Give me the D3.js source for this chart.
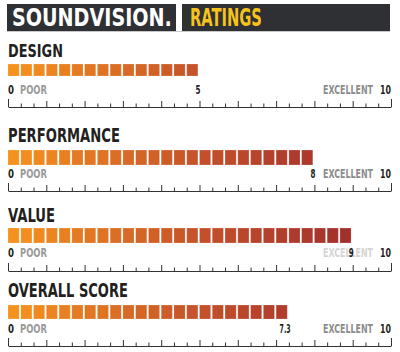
<!DOCTYPE html>
<html>
<head>
<meta charset="utf-8">
<title>SoundVision ratings</title>
<script src="https://d3js.org/d3.v7.min.js"></script>
<style>
  body { margin: 0; background: #fff; }
  text { font-family: "Liberation Sans Narrow", "DejaVu Sans Condensed", "Arial Narrow", sans-serif; font-weight: bold; }
</style>
</head>
<body>
<div id="chart"></div>
<script>
// ratings data
const categories = ["DESIGN", "PERFORMANCE", "VALUE", "OVERALL SCORE"];
const scores = [5, 8, 9, 7.3];
const scoreLabels = ["5", "8", "9", "7.3"];
const lowLabel = "POOR";
const highLabel = "EXCELLENT";
const scaleMin = 0, scaleMax = 10;

const width = 400, height = 352;

// layout of each block (title baseline, bar top, bar height, label baseline, axis line)
const rows = [
    { title: 57,  bar: 64,  barH: 12, label: 94,  axis: 107, titleW: 55 },
    { title: 142, bar: 150, barH: 15, label: 178, axis: 191, titleW: 112 },
    { title: 222, bar: 228, barH: 15, label: 257, axis: 271, titleW: 47 },
    { title: 297, bar: 305, barH: 14, label: 333, axis: 346, titleW: 120 }
];

const svg = d3.select("#chart").append("svg")
    .attr("width", width)
    .attr("height", height);

// squeeze a text horizontally to a given width (condensed look)
function fitText(g, txt, xPos, y, anchor, size, fill, w) {
    const t = g.append("text")
        .attr("text-anchor", anchor)
        .style("font-size", size + "px")
        .attr("fill", fill)
        .text(txt);
    const nat = t.node().getComputedTextLength();
    const s = w ? w / nat : 1;
    t.attr("transform", `translate(${xPos},${y}) scale(${s},1)`);
    return t;
}

// header
svg.append("rect").attr("x", 7).attr("y", 4).attr("width", 169).attr("height", 27).attr("fill", "#2e3034");
svg.append("rect").attr("x", 182).attr("y", 4).attr("width", 208).attr("height", 27).attr("fill", "#2e3034");
svg.append("rect").attr("x", 7).attr("y", 31).attr("width", 383).attr("height", 1).attr("fill", "#c8c8c8");
fitText(svg, "SOUNDVISION.", 12, 26, "start", 25, "#fff", 160);
fitText(svg, "RATINGS", 190, 26, "start", 25, "#f6c21c", 72);

const x = d3.scaleLinear()
    .domain([scaleMin, scaleMax])
    .range([8, 391]);

const color = d3.scaleLinear()
    .domain([0, 5, 10])
    .range(["#f7941e", "#c4512a", "#98262d"])
    .interpolate(d3.interpolateRgb);

const thirds = d3.range(0, scaleMax * 3 + 1).map(i => i / 3);

categories.forEach((cat, k) => {
    const r = rows[k];
    const g = svg.append("g");

    fitText(g, cat, 8, r.title, "start", k === 0 ? 18 : 19, "#231f20", r.titleW);

    // bar made of segments, three per point
    const n = Math.round(scores[k] * 3);
    g.selectAll("rect.seg")
        .data(d3.range(n))
        .join("rect")
        .attr("class", "seg")
        .attr("x", i => x(i / 3))
        .attr("y", r.bar)
        .attr("width", i => x((i + 1) / 3) - x(i / 3) - 1.6)
        .attr("height", r.barH)
        .attr("fill", i => color((i + 0.5) / 3))
        .attr("stroke", "#fff")
        .attr("stroke-opacity", 0.25)
        .attr("stroke-width", 0.8);

    // axis
    const axis = d3.axisTop(x)
        .tickValues(thirds)
        .tickFormat("")
        .tickSizeOuter(0);
    const ag = g.append("g")
        .attr("transform", `translate(0,${r.axis})`)
        .call(axis);
    ag.select(".domain").attr("stroke", "#333").attr("stroke-width", 1.2);
    ag.selectAll(".tick line")
        .attr("stroke", "#333")
        .attr("y2", d => {
            if (d === scaleMin || d === scaleMax) return -8;
            if (Math.abs(d - Math.round(d)) < 1e-6) return -6;
            return -3.5;
        });

    // labels
    fitText(g, scaleMin, 8, r.label, "start", 11.5, "#231f20", 6);
    fitText(g, lowLabel, 20, r.label, "start", 11.5, "#9a9a9a", 27);
    fitText(g, highLabel, 373, r.label, "end", 11.5, scores[k] > 8.4 ? "#d4d4d4" : "#8c8c8c", 50);
    fitText(g, scaleMax, 391, r.label, "end", 11.5, "#231f20", 11);
    const sl = scoreLabels[k];
    fitText(g, sl, x(scores[k]) + (sl.length > 1 ? 3 : 1), r.label, "end", 11.5, "#231f20", sl.length > 1 ? 11 : 5);
});
</script>
</body>
</html>
